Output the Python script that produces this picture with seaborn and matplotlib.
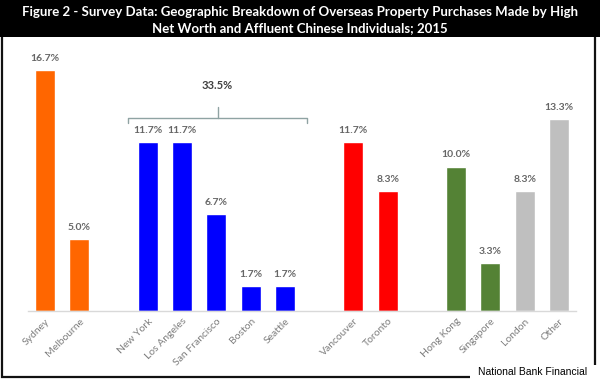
import pandas as pd
import numpy as np
import matplotlib
matplotlib.use("Agg")
import matplotlib.pyplot as plt
from matplotlib.patches import Rectangle
import seaborn as sns

# --- data ---
cities = ["Sydney", "Melbourne",
          "New York", "Los Angeles", "San Francisco", "Boston", "Seattle",
          "Vancouver", "Toronto",
          "Hong Kong", "Singapore", "London", "Other"]
shares = [16.7, 5.0,
          11.7, 11.7, 6.7, 1.7, 1.7,
          11.7, 8.3,
          10.0, 3.3, 8.3, 13.3]
regions = ["Australia", "Australia",
           "USA", "USA", "USA", "USA", "USA",
           "Canada", "Canada",
           "Asia", "Asia", "Other", "Other"]
usa_total = "33.5%"
region_colors = {"Australia": "#FF6600", "USA": "#0000FF", "Canada": "#FF0000",
                 "Asia": "#548235", "Other": "#BFBFBF"}

# empty slots between the country groups
order = ["Sydney", "Melbourne", "_gap1",
         "New York", "Los Angeles", "San Francisco", "Boston", "Seattle", "_gap2",
         "Vancouver", "Toronto", "_gap3",
         "Hong Kong", "Singapore", "London", "Other"]

df = pd.DataFrame({"city": cities, "share": shares, "region": regions})
palette = {c: region_colors[r] for c, r in zip(cities, regions)}
for g in order:
    if g.startswith("_gap"):
        palette[g] = "white"

sns.set_theme(style="white")
plt.rcParams["font.family"] = ["Lato", "DejaVu Sans"]

fig = plt.figure(figsize=(6, 3.79), dpi=100)
ax = fig.add_axes([0.0467, 0.1794, 0.9133, 0.7026])

sns.barplot(data=df, x="city", y="share", hue="city", order=order,
            palette=palette, width=0.58, legend=False, saturation=1,
            ax=ax)

ax.set_xlim(-0.5, len(order) - 0.5)
ax.set_ylim(0, 18.45)
ax.set_xlabel("")
ax.set_ylabel("")
ax.set_yticks([])
ax.set_xticks(range(len(order)))
ax.set_xticklabels(["" if o.startswith("_gap") else o for o in order],
                   rotation=45, ha="right", rotation_mode="anchor",
                   fontsize=7.5, color="#7f7f7f")
ax.tick_params(axis="x", length=0, pad=4)
for s in ["top", "right", "left"]:
    ax.spines[s].set_visible(False)
ax.spines["bottom"].set_color("#d9d9d9")
ax.spines["bottom"].set_linewidth(1.0)

# value labels
pos = {c: order.index(c) for c in cities}
for c, v in zip(cities, shares):
    ax.annotate(f"{v:.1f}%", (pos[c], v), xytext=(0, 8.5),
                textcoords="offset points", ha="center", va="center",
                fontsize=7.5, fontweight="bold", color="#666666")

# bracket over the US cities
usa = [pos[c] for c, r in zip(cities, regions) if r == "USA"]
x0, x1 = min(usa) - 0.58, max(usa) + 0.65
xm = (x0 + x1) / 2
yb = 13.37
bc = "#8fa3a3"
ax.plot([x0, x0, x1, x1], [yb - 0.35, yb, yb, yb - 0.35], color=bc, lw=1.0)
ax.plot([xm, xm], [yb, yb + 0.75], color=bc, lw=1.0)
ax.text(xm, 15.6, usa_total, ha="center", va="center",
        fontsize=8, fontweight="bold", color="#404040")

# title band and outer frame
fig.patches.append(Rectangle((0.004, 0.005), 0.988, 0.95, transform=fig.transFigure,
                             facecolor="none", edgecolor="#111111", lw=1.6, zorder=0))
fig.patches.append(Rectangle((0, 1 - 37 / 379), 1, 37 / 379, transform=fig.transFigure,
                             facecolor="black", edgecolor="none", zorder=1))
fig.text(0.5, 1 - 12 / 379,
         "Figure 2 - Survey Data: Geographic Breakdown of Overseas Property Purchases Made by High",
         ha="center", va="center", color="white", fontsize=9.5, fontweight="bold")
fig.text(0.5, 1 - 28 / 379,
         "Net Worth and Affluent Chinese Individuals; 2015",
         ha="center", va="center", color="white", fontsize=9.5, fontweight="bold")

# source box
fig.patches.append(Rectangle((470 / 600, 0), 130 / 600, 14 / 379, transform=fig.transFigure,
                             facecolor="white", edgecolor="none", zorder=2))
fig.text(533 / 600, 7 / 379, "National Bank Financial", ha="center", va="center",
         fontsize=7.5, color="black", family=["Liberation Sans", "DejaVu Sans"], zorder=3)

fig.savefig("out.png", dpi=100, facecolor="white")
